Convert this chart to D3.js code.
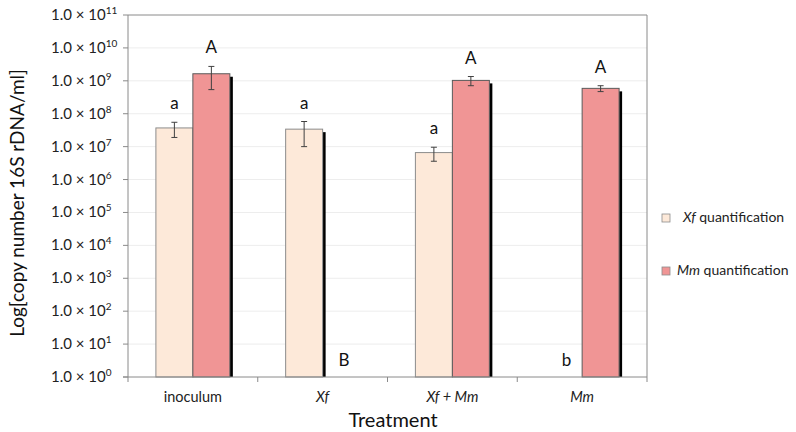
<!DOCTYPE html>
<html><head><meta charset="utf-8">
<script src="https://cdn.jsdelivr.net/npm/d3@7"></script>
<style>body{margin:0;background:#fff}svg{display:block;font-family:Lato,"Open Sans",sans-serif}</style>
</head><body><svg id="c" width="796" height="432"></svg>
<script>
const categories = ["inoculum", "Xf", "Xf + Mm", "Mm"];
const categoryItalic = [false, true, true, true];
const seriesNames = ["Xf", "Mm"];
const xfValues = [3.7e7, 3.4e7, 6.6e6, null];
const xfErrors = [1.8e7, 2.4e7, 3.0e6, null];
const xfLetters = ["a", "a", "a", "b"];
const mmValues = [1.64e9, null, 1.03e9, 5.9e8];
const mmErrors = [1.1e9, null, 3.2e8, 1.2e8];
const mmLetters = ["A", "B", "A", "A"];
const yTickExponents = [0,1,2,3,4,5,6,7,8,9,10,11];
const colors = {Xf: "#fde9d9", Mm: "#f09595"};
const strokes = {Xf: "#8c8c8c", Mm: "#5a5a5a"};

const svg = d3.select("#c");
const L = 128, R = 647, T = 15, B = 377;
const y = d3.scaleLog().domain([1, 1e11]).range([B, T]);
const x = d3.scaleBand().domain(categories).range([L, R]);
const bw = x.bandwidth();
const x1 = d3.scaleBand().domain(seriesNames).range([bw*0.215, bw*0.785]);

svg.append("g").selectAll("line").data(yTickExponents.slice(1, -1)).join("line")
  .attr("x1", L).attr("x2", R).attr("y1", d => y(Math.pow(10,d))).attr("y2", d => y(Math.pow(10,d)))
  .attr("stroke", "#ededed").attr("stroke-width", 1);

svg.append("line").attr("x1", L).attr("x2", R).attr("y1", T).attr("y2", T).attr("stroke", "#8a8a8a");
svg.append("line").attr("x1", R).attr("x2", R).attr("y1", T).attr("y2", B).attr("stroke", "#8a8a8a");

const data = categories.map((c, i) => ({
  c, items: [
    {s: "Xf", v: xfValues[i], e: xfErrors[i], l: xfLetters[i]},
    {s: "Mm", v: mmValues[i], e: mmErrors[i], l: mmLetters[i]}
  ]
}));

const gBars = svg.append("g");
data.forEach(d => {
  d.items.forEach(it => {
    const bx = x(d.c) + x1(it.s), w = x1.bandwidth();
    if (it.v != null) {
      gBars.append("rect").attr("x", bx + w).attr("y", y(it.v) + 3).attr("width", 3)
        .attr("height", B - y(it.v) - 3).attr("fill", "#000");
      gBars.append("rect").attr("x", bx).attr("y", y(it.v)).attr("width", w)
        .attr("height", B - y(it.v)).attr("fill", colors[it.s]).attr("stroke", strokes[it.s]).attr("stroke-width", 1);
    }
  });
});
data.forEach(d => {
  d.items.forEach(it => {
    const cx = x(d.c) + x1(it.s) + x1.bandwidth()/2;
    if (it.v != null) {
      const yt = y(it.v + it.e), yb = y(it.v - it.e);
      const g = svg.append("g").attr("stroke", "#404040").attr("stroke-width", 1);
      g.append("line").attr("x1", cx).attr("x2", cx).attr("y1", yt).attr("y2", yb);
      g.append("line").attr("x1", cx-3).attr("x2", cx+3).attr("y1", yt).attr("y2", yt);
      g.append("line").attr("x1", cx-3).attr("x2", cx+3).attr("y1", yb).attr("y2", yb);
      svg.append("text").attr("x", cx).attr("y", yt - 13).attr("text-anchor", "middle")
        .attr("font-size", 17).attr("fill", "#111").text(it.l);
    } else {
      svg.append("text").attr("x", cx + 3).attr("y", B - 11).attr("text-anchor", "middle")
        .attr("font-size", 17).attr("fill", "#111").text(it.l);
    }
  });
});

svg.append("line").attr("x1", L).attr("x2", L).attr("y1", T).attr("y2", B).attr("stroke", "#8a8a8a");
svg.append("line").attr("x1", L-5).attr("x2", R).attr("y1", B).attr("y2", B).attr("stroke", "#8a8a8a");
yTickExponents.forEach(e => {
  const yy = y(Math.pow(10, e));
  svg.append("line").attr("x1", L-5).attr("x2", L).attr("y1", yy).attr("y2", yy).attr("stroke", "#8a8a8a");
  const t = svg.append("text").attr("x", 51).attr("y", yy + 5).attr("font-size", 15).attr("fill", "#222");
  t.append("tspan").text("1.0 × 10");
  t.append("tspan").attr("dy", -6).attr("font-size", 10).text(e);
});
d3.range(categories.length + 1).forEach(i => {
  const xx = L + i * bw;
  svg.append("line").attr("x1", xx).attr("x2", xx).attr("y1", B).attr("y2", B + 5).attr("stroke", "#8a8a8a");
});
categories.forEach((c, i) => {
  svg.append("text").attr("x", x(c) + bw/2).attr("y", 402).attr("text-anchor", "middle")
    .attr("font-size", 14.5).attr("fill", "#222").attr("font-style", categoryItalic[i] ? "italic" : "normal").text(c);
});

svg.append("text").attr("x", 393).attr("y", 427).attr("text-anchor", "middle").attr("font-size", 20).attr("fill", "#111").text("Treatment");
svg.append("text").attr("transform", "translate(24,203) rotate(-90)").attr("text-anchor", "middle")
  .attr("font-size", 19).attr("fill", "#111").text("Log[copy number 16S rDNA/ml]");

const leg = [{s: "Xf", y: 218, tx: 683}, {s: "Mm", y: 271, tx: 677}];
leg.forEach(l => {
  svg.append("rect").attr("x", 662).attr("y", l.y - 4).attr("width", 8).attr("height", 8)
    .attr("fill", colors[l.s]).attr("stroke", "#8c8c8c").attr("stroke-width", 0.8);
  const t = svg.append("text").attr("x", l.tx).attr("y", l.y + 4).attr("font-size", 14).attr("fill", "#222");
  t.append("tspan").attr("font-style", "italic").text(l.s);
  t.append("tspan").text(" quantification");
});
</script></body></html>
